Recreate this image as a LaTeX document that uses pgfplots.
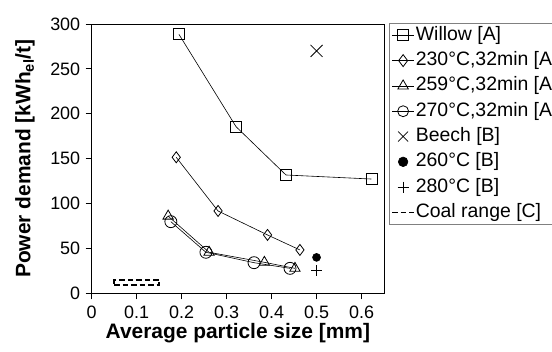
\documentclass[border=0pt]{standalone}
\usepackage{pgfplots}
\pgfplotsset{compat=1.18}
\usepackage{fontspec}
\setmainfont{Liberation Sans}
\begin{document}
\begin{tikzpicture}
\path[use as bounding box] (-91.7bp,-58.7bp) rectangle (460.3bp,293.3bp);
\begin{axis}[
  at={(0,0)}, anchor=south west,
  scale only axis, width=292.3bp, height=269.3bp,
  xmin=0, xmax=0.65, ymin=0, ymax=300,
  xtick={0,0.1,0.2,0.3,0.4,0.5,0.6},
  xticklabels={0,0.1,0.2,0.3,0.4,0.5,0.6},
  ytick={0,50,100,150,200,250,300},
  tick align=outside, tick pos=left,
  major tick length=6bp,
  axis line style={line width=0.9bp},
  tick style={line width=0.9bp, black},
  /pgf/number format/assume math mode=true,
  ticklabel style={font=\fontsize{18}{18}\selectfont},
  xticklabel style={yshift=-3bp},
  yticklabel style={xshift=-2bp},
  xlabel={\textbf{Average particle size [mm]}},
  ylabel={\textbf{Power demand [kWh\textsubscript{el}/t]}},
  label style={font=\fontsize{21}{21}\selectfont},
  xlabel style={at={(axis description cs:0.5,-0.166)}, anchor=base},
  ylabel style={at={(axis description cs:-0.228,0.5)}, anchor=center},
  legend style={at={(1.017,1.004)}, anchor=north west, draw=gray, line width=0.8bp,
    font=\fontsize{19.5}{19.5}\selectfont, inner sep=2bp,
    nodes={inner sep=1bp, text height=14bp, text depth=4bp},
    row sep=5.3bp},
  legend cell align=left,
  legend image code/.code={\draw[mark repeat=2,mark phase=2,#1] plot coordinates {(3bp,0bp) (14bp,0bp) (25bp,0bp)};},
  every axis plot/.append style={line width=0.6bp, black},
]
\addplot[mark=square, mark size=5.5bp, mark options={line width=0.8bp, fill=white}, legend image post style={mark size=5.5bp}] coordinates {(0.194,288.5) (0.321,185.6) (0.432,131.8) (0.622,127.3)};
\addlegendentry{Willow [A]}
\addplot[mark=diamond, mark size=5.5bp, mark options={line width=0.8bp, fill=white}, legend image post style={mark size=6bp}] coordinates {(0.188,151.5) (0.281,91.7) (0.391,65) (0.463,48.3)};
\addlegendentry{230°C,32min [A]}
\addplot[mark=triangle, mark size=6bp, mark options={line width=0.8bp}, legend image post style={mark size=6bp}] coordinates {(0.170,86) (0.261,45.7) (0.384,34.5) (0.452,27.8)};
\addlegendentry{259°C,32min [A]}
\addplot[mark=o, mark size=6bp, mark options={line width=0.8bp}, legend image post style={mark size=5.5bp}] coordinates {(0.176,79.8) (0.254,45.7) (0.361,34.1) (0.441,27.8)};
\addlegendentry{270°C,32min [A]}
\addplot[only marks, mark=x, mark size=8.5bp, mark options={line width=0.8bp}, legend image post style={mark size=7bp}] coordinates {(0.5,270)};
\addlegendentry{Beech [B]}
\addplot[only marks, mark=*, mark size=4bp, legend image post style={mark size=4.8bp}] coordinates {(0.5,40)};
\addlegendentry{260°C [B]}
\addplot[only marks, mark=+, mark size=5.5bp, mark options={line width=0.8bp}, legend image post style={mark size=5.5bp}] coordinates {(0.5,25)};
\addlegendentry{280°C [B]}
\addplot[line width=1.5bp, dash pattern=on 5.5bp off 3bp] coordinates {(0.05,9) (0.15,9) (0.15,15) (0.05,15) (0.05,9)};
\addlegendentry{Coal range [C]}
\end{axis}
\end{tikzpicture}
\end{document}
